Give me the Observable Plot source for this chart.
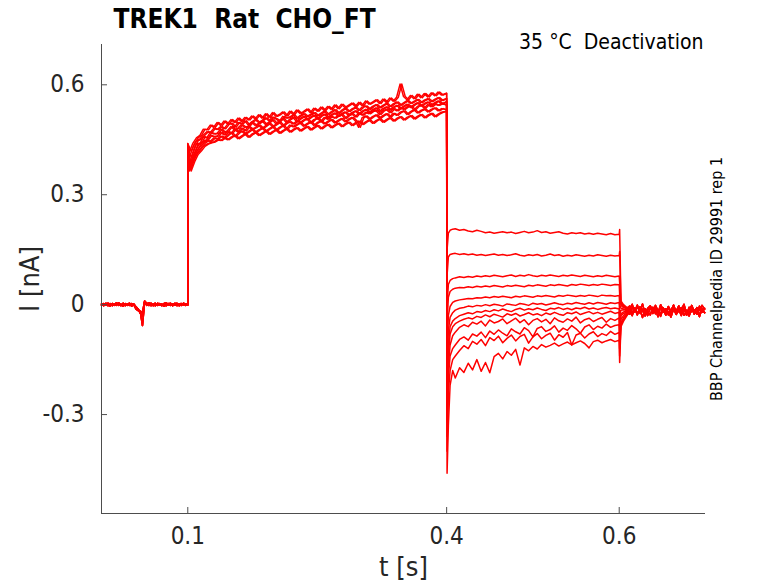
<!DOCTYPE html>
<html>
<head>
<meta charset="utf-8">
<script src="https://cdn.jsdelivr.net/npm/d3@7"></script>
<script src="https://cdn.jsdelivr.net/npm/@observablehq/plot@0.6"></script>
<style>
  html, body { margin: 0; padding: 0; background: #fff; }
</style>
</head>
<body>
<div id="chart"></div>
<script>
// ---------- texts ----------
const titleText = "TREK1  Rat  CHO_FT";
const conditionText = "35 °C  Deactivation";
const sideText = "BBP Channelpedia ID 29991 rep 1";
const xLabel = "t [s]";
const yLabel = "I [nA]";

// ---------- axes ----------
const xDomain = [0, 0.7];
const yDomain = [-0.57, 0.71];
const xTicks = [0.1, 0.4, 0.6];
const xTickLabels = ["0.1", "0.4", "0.6"];
const yTicks = [-0.3, 0, 0.3, 0.6];
const yTickLabels = ["-0.3", "0", "0.3", "0.6"];

// ---------- sample times (s) ----------
const baseT = d3.range(41).map(i => i * 0.0025);          // 0 .. 0.1
const actT = d3.range(76).map(i => 0.1 + i * 0.004);      // 0.1 .. 0.4
const actTb = actT.map((t, i) => (i === 0 || i === 75) ? t : t - 0.002); // interleaved samples
const stepT = [0.4005, 0.402, 0.404, 0.407];              // onset of test step
const holdT = d3.range(39).map(i => 0.41 + i * 0.005);    // 0.41 .. 0.6
const offT = [0.6005, 0.602, 0.605, 0.609];               // end of test step
const tailT = d3.range(30).map(i => 0.612 + i * 0.003);   // 0.612 .. 0.699

// ---------- baseline before activation (nA) ----------
const baseA = [0.002,-0.003,0.004,0.000,-0.004,0.003,0.001,-0.002,0.005,-0.001,0.002,-0.003,0.001,0.004,-0.002,0.000,-0.012,-0.016,-0.020,-0.057,0.008,0.004,-0.002,0.003,0.000,-0.003,0.004,-0.001,0.002,-0.004,0.001,0.003,-0.002,0.002,-0.001,0.004,-0.003,0.000,0.003,-0.002,0.001];
const baseB = [-0.002,0.003,-0.001,0.004,0.001,-0.003,0.002,0.005,-0.002,0.001,-0.004,0.003,0.000,-0.002,0.003,-0.001,-0.008,-0.014,-0.018,-0.022,0.010,0.002,0.005,-0.003,0.002,0.004,-0.002,0.001,-0.003,0.003,0.005,-0.001,0.002,-0.003,0.004,0.000,0.002,-0.002,0.004,0.001,-0.001];
const baseC = [0.001,-0.001,0.002,-0.003,0.003,0.000,-0.002,0.001,0.003,-0.003,0.004,0.000,-0.002,0.002,-0.004,0.002,-0.006,-0.012,-0.024,-0.030,0.006,-0.002,0.001,0.004,-0.003,0.002,-0.001,0.003,-0.002,0.000,-0.003,0.002,0.004,-0.002,0.001,-0.003,0.002,0.003,-0.001,0.002,0.000];

// ---------- activation (nA), six overlapping sweeps of the band ----------
const act1 = [0.440,0.418,0.441,0.455,0.462,0.479,0.477,0.490,0.484,0.497,
  0.489,0.501,0.493,0.505,0.497,0.509,0.500,0.511,0.504,0.515,
  0.507,0.518,0.509,0.521,0.511,0.524,0.514,0.519,0.526,0.515,
  0.528,0.519,0.531,0.522,0.527,0.534,0.524,0.536,0.528,0.539,
  0.530,0.541,0.533,0.545,0.535,0.547,0.538,0.544,0.550,0.541,
  0.552,0.543,0.556,0.547,0.553,0.559,0.549,0.561,0.552,0.564,
  0.555,0.566,0.602,0.568,0.559,0.571,0.562,0.574,0.565,0.576,
  0.567,0.578,0.570,0.580,0.572,0.577];
const act2 = [0.428,0.402,0.430,0.447,0.452,0.463,0.472,0.470,0.481,0.478,
  0.486,0.480,0.492,0.495,0.484,0.497,0.493,0.502,0.490,0.499,
  0.505,0.497,0.503,0.510,0.501,0.512,0.507,0.500,0.514,0.509,
  0.512,0.518,0.508,0.516,0.521,0.513,0.519,0.524,0.515,0.522,
  0.528,0.519,0.526,0.532,0.522,0.530,0.536,0.527,0.534,0.538,
  0.530,0.539,0.542,0.533,0.541,0.546,0.537,0.544,0.549,0.540,
  0.548,0.553,0.544,0.551,0.557,0.549,0.555,0.560,0.551,0.558,
  0.562,0.554,0.560,0.565,0.557,0.563];
const act3 = [0.420,0.388,0.412,0.440,0.439,0.458,0.455,0.470,0.466,0.468,
  0.479,0.470,0.475,0.486,0.477,0.482,0.491,0.484,0.487,0.498,
  0.489,0.495,0.501,0.492,0.498,0.505,0.494,0.502,0.508,0.497,
  0.506,0.511,0.500,0.508,0.514,0.505,0.512,0.517,0.507,0.515,
  0.520,0.511,0.518,0.523,0.514,0.521,0.526,0.517,0.524,0.529,
  0.520,0.528,0.533,0.524,0.532,0.537,0.527,0.535,0.540,0.531,
  0.539,0.544,0.535,0.542,0.547,0.538,0.546,0.551,0.542,0.549,
  0.553,0.545,0.551,0.556,0.548,0.554];
const act4 = [0.410,0.380,0.405,0.425,0.441,0.446,0.450,0.462,0.458,0.460,
  0.470,0.463,0.472,0.468,0.478,0.471,0.482,0.474,0.486,0.479,
  0.483,0.490,0.481,0.488,0.495,0.486,0.492,0.498,0.488,0.496,
  0.499,0.493,0.501,0.497,0.504,0.507,0.496,0.505,0.509,0.500,
  0.511,0.506,0.513,0.509,0.516,0.519,0.508,0.517,0.521,0.512,
  0.523,0.517,0.525,0.521,0.528,0.530,0.519,0.529,0.533,0.524,
  0.535,0.529,0.537,0.533,0.540,0.542,0.531,0.541,0.545,0.536,
  0.546,0.540,0.548,0.544,0.549,0.545];
const act5 = [0.402,0.372,0.398,0.418,0.430,0.440,0.447,0.446,0.455,0.452,
  0.460,0.455,0.463,0.470,0.459,0.468,0.474,0.466,0.472,0.479,
  0.470,0.477,0.482,0.473,0.480,0.486,0.476,0.484,0.489,0.479,
  0.490,0.485,0.492,0.496,0.487,0.494,0.499,0.489,0.497,0.501,
  0.493,0.500,0.505,0.496,0.503,0.508,0.499,0.506,0.511,0.502,
  0.484,0.510,0.515,0.506,0.513,0.518,0.509,0.516,0.521,0.512,
  0.522,0.517,0.525,0.529,0.519,0.527,0.532,0.523,0.530,0.534,
  0.526,0.533,0.537,0.529,0.535,0.532];
const act6 = [0.395,0.365,0.390,0.410,0.420,0.432,0.438,0.442,0.444,0.450,
  0.448,0.455,0.450,0.457,0.462,0.453,0.460,0.466,0.457,0.465,
  0.470,0.462,0.468,0.474,0.465,0.472,0.477,0.468,0.475,0.480,
  0.471,0.478,0.483,0.474,0.481,0.486,0.477,0.484,0.489,0.480,
  0.487,0.492,0.483,0.490,0.495,0.486,0.493,0.498,0.489,0.496,
  0.501,0.492,0.499,0.504,0.495,0.502,0.507,0.498,0.505,0.510,
  0.501,0.508,0.513,0.504,0.511,0.516,0.507,0.514,0.519,0.510,
  0.517,0.522,0.513,0.520,0.525,0.528];

// ---------- test-step onset (at stepT), one row per sweep ----------
const onset = [
  [0.15, 0.195, 0.203, 0.206],
  [0.08, 0.130, 0.137, 0.139],
  [0.00, 0.055, 0.066, 0.071],
  [-0.05, 0.020, 0.036, 0.042],
  [-0.12, -0.030, -0.005, 0.006],
  [-0.18, -0.070, -0.035, -0.022],
  [-0.24, -0.110, -0.060, -0.045],
  [-0.28, -0.140, -0.080, -0.060],
  [-0.32, -0.170, -0.110, -0.085],
  [-0.36, -0.200, -0.140, -0.120],
  [-0.40, -0.240, -0.180, -0.150],
  [-0.46, -0.330, -0.220, -0.180]
];

// ---------- test-step hold currents (at holdT), one row per sweep ----------
const hold = [
  [0.207,0.203,0.205,0.201,0.199,0.203,0.200,0.196,0.198,0.195,0.197,0.199,0.196,0.198,0.194,0.197,0.200,0.196,0.198,0.202,0.197,0.199,0.195,0.197,0.199,0.195,0.193,0.196,0.194,0.196,0.193,0.195,0.192,0.195,0.193,0.191,0.194,0.191,0.192],
  [0.140,0.137,0.139,0.136,0.138,0.135,0.137,0.134,0.136,0.138,0.135,0.137,0.134,0.136,0.139,0.135,0.133,0.136,0.134,0.137,0.133,0.135,0.138,0.134,0.136,0.132,0.135,0.133,0.136,0.134,0.132,0.135,0.133,0.136,0.134,0.132,0.135,0.133,0.134],
  [0.073,0.076,0.074,0.077,0.075,0.078,0.076,0.079,0.077,0.080,0.078,0.076,0.079,0.081,0.077,0.080,0.078,0.082,0.079,0.077,0.080,0.078,0.081,0.079,0.077,0.080,0.078,0.081,0.079,0.077,0.080,0.078,0.076,0.079,0.077,0.080,0.078,0.076,0.078],
  [0.045,0.047,0.046,0.049,0.047,0.050,0.048,0.051,0.049,0.052,0.050,0.048,0.052,0.050,0.053,0.051,0.049,0.053,0.051,0.054,0.052,0.050,0.054,0.052,0.055,0.053,0.051,0.055,0.053,0.056,0.054,0.052,0.055,0.053,0.056,0.054,0.052,0.055,0.054],
  [0.010,0.013,0.015,0.017,0.016,0.019,0.018,0.021,0.019,0.022,0.020,0.023,0.021,0.019,0.023,0.021,0.024,0.022,0.020,0.024,0.022,0.025,0.023,0.021,0.025,0.023,0.026,0.024,0.022,0.025,0.023,0.026,0.024,0.022,0.026,0.024,0.025,0.023,0.025],
  [-0.015,-0.010,-0.008,-0.004,-0.006,-0.002,-0.004,0.000,-0.003,0.001,-0.001,-0.004,0.002,0.000,-0.002,0.003,0.001,-0.002,0.004,0.001,0.003,-0.001,0.002,0.005,0.002,0.000,0.004,0.002,0.006,0.003,0.001,0.005,0.002,0.006,0.004,0.001,0.005,0.003,0.006],
  [-0.038,-0.030,-0.026,-0.022,-0.025,-0.019,-0.021,-0.016,-0.019,-0.014,-0.017,-0.012,-0.016,-0.019,-0.013,-0.010,-0.015,-0.011,-0.014,-0.009,-0.013,-0.016,-0.010,-0.012,-0.008,-0.013,-0.010,-0.014,-0.009,-0.011,-0.007,-0.012,-0.009,-0.013,-0.010,-0.008,-0.011,-0.009,-0.012],
  [-0.052,-0.045,-0.040,-0.036,-0.039,-0.032,-0.035,-0.028,-0.033,-0.026,-0.030,-0.034,-0.025,-0.029,-0.024,-0.031,-0.027,-0.022,-0.028,-0.025,-0.030,-0.023,-0.027,-0.021,-0.026,-0.029,-0.022,-0.025,-0.020,-0.027,-0.023,-0.019,-0.025,-0.021,-0.026,-0.022,-0.018,-0.024,-0.021],
  [-0.075,-0.062,-0.055,-0.060,-0.048,-0.053,-0.045,-0.058,-0.042,-0.050,-0.046,-0.039,-0.052,-0.044,-0.037,-0.049,-0.041,-0.055,-0.043,-0.038,-0.047,-0.040,-0.052,-0.036,-0.044,-0.048,-0.039,-0.045,-0.034,-0.050,-0.041,-0.037,-0.046,-0.040,-0.035,-0.048,-0.038,-0.043,-0.036],
  [-0.110,-0.095,-0.088,-0.097,-0.080,-0.086,-0.075,-0.090,-0.072,-0.081,-0.069,-0.078,-0.085,-0.066,-0.074,-0.080,-0.063,-0.071,-0.088,-0.065,-0.060,-0.073,-0.068,-0.058,-0.075,-0.064,-0.070,-0.057,-0.066,-0.078,-0.061,-0.055,-0.068,-0.059,-0.064,-0.053,-0.062,-0.057,-0.055],
  [-0.140,-0.125,-0.112,-0.120,-0.100,-0.108,-0.095,-0.112,-0.090,-0.098,-0.086,-0.104,-0.092,-0.083,-0.099,-0.087,-0.081,-0.105,-0.088,-0.079,-0.093,-0.084,-0.078,-0.097,-0.082,-0.089,-0.076,-0.110,-0.083,-0.078,-0.091,-0.080,-0.074,-0.087,-0.079,-0.084,-0.073,-0.081,-0.076],
  [-0.200,-0.172,-0.185,-0.160,-0.178,-0.150,-0.182,-0.158,-0.186,-0.142,-0.133,-0.148,-0.128,-0.138,-0.122,-0.165,-0.118,-0.126,-0.114,-0.121,-0.109,-0.116,-0.111,-0.105,-0.113,-0.107,-0.102,-0.110,-0.104,-0.099,-0.106,-0.118,-0.101,-0.097,-0.104,-0.099,-0.095,-0.101,-0.097]
];

// ---------- end of test step (at offT), one row per sweep ----------
const offset = [
  [0.205, 0.010, 0.000, -0.008],
  [0.145, 0.005, -0.003, -0.010],
  [0.060, 0.002, -0.005, -0.012],
  [0.030, -0.002, -0.008, -0.011],
  [0.000, -0.010, -0.012, -0.015],
  [-0.030, -0.015, -0.014, -0.016],
  [-0.060, -0.025, -0.020, -0.018],
  [-0.080, -0.030, -0.024, -0.020],
  [-0.100, -0.040, -0.030, -0.022],
  [-0.120, -0.050, -0.035, -0.025],
  [-0.140, -0.055, -0.040, -0.028],
  [-0.158, -0.060, -0.045, -0.030]
];

// ---------- tail currents after the step (at tailT) ----------
const tailA = [-0.004,-0.022,-0.010,-0.028,-0.006,-0.019,-0.013,-0.030,-0.008,-0.021,-0.002,-0.017,-0.025,-0.009,-0.020,-0.005,-0.027,-0.012,-0.018,-0.003,-0.024,-0.011,-0.029,-0.007,-0.019,-0.014,-0.026,-0.004,-0.021,-0.010];
const tailB = [-0.026,-0.008,-0.018,-0.001,-0.023,-0.012,-0.031,-0.015,-0.005,-0.024,-0.014,-0.033,-0.006,-0.020,-0.011,-0.028,-0.016,-0.003,-0.022,-0.013,-0.030,-0.008,-0.017,-0.025,-0.002,-0.019,-0.009,-0.027,-0.015,-0.022];
const tailC = [-0.012,0.001,-0.020,-0.007,-0.016,0.002,-0.025,-0.010,-0.003,-0.018,-0.008,-0.022,0.000,-0.014,-0.029,-0.006,-0.017,-0.001,-0.021,-0.009,-0.015,0.001,-0.023,-0.012,-0.004,-0.026,-0.008,-0.016,-0.002,-0.013];
const tailD = [-0.018,-0.030,-0.009,-0.024,-0.014,-0.035,-0.011,-0.021,-0.028,-0.007,-0.025,-0.016,-0.032,-0.010,-0.023,-0.019,-0.034,-0.012,-0.027,-0.017,-0.008,-0.029,-0.020,-0.031,-0.013,-0.024,-0.018,-0.033,-0.011,-0.022];

// ---------- assemble the 12 sweeps ----------
const bases = [baseA, baseB, baseC];
const acts = [act1, act2, act3, act4, act5, act6];
const tails = [tailA, tailB, tailC, tailD];
const rows = [];
for (let s = 0; s < hold.length; s++) {
  const push = (ts, vs) => ts.forEach((t, i) => { if (vs[i] !== undefined) rows.push({sweep: s, t, v: vs[i]}); });
  push(baseT, bases[s % 3]);
  push(s < 6 ? actT : actTb, acts[s % 6]);
  push(stepT, onset[s]);
  push(holdT, hold[s]);
  push(offT, offset[s]);
  push(tailT, tails[s % 4]);
}

const font = "'DejaVu Sans Condensed', 'DejaVu Sans', sans-serif";
const axisColor = "#4d4d4d";
const textColor = "#262626";

const chart = Plot.plot({
  width: 778,
  height: 583,
  marginTop: 44,
  marginRight: 73,
  marginBottom: 70,
  marginLeft: 101,
  x: {domain: xDomain},
  y: {domain: yDomain},
  style: {fontFamily: font, background: "#fff", overflow: "visible"},
  marks: [
    Plot.line(rows, {x: "t", y: "v", z: "sweep", stroke: "#ff0000", strokeWidth: 1.5, strokeLinejoin: "round"}),
    Plot.ruleX([xDomain[0]], {stroke: axisColor, strokeWidth: 1}),
    Plot.ruleY([yDomain[0]], {stroke: axisColor, strokeWidth: 1}),
    Plot.tickX(xTicks, {x: d => d, insetTop: 463, stroke: axisColor}),
    Plot.tickY(yTicks, {y: d => d, insetRight: 598, stroke: axisColor}),
    Plot.axisX(xTicks, {tickSize: 0, tickPadding: 13, fontSize: 24, fill: textColor,
      tickFormat: d => xTickLabels[xTicks.indexOf(d)], label: null}),
    Plot.axisY(yTicks, {tickSize: 0, tickPadding: 17, fontSize: 24, fill: textColor,
      tickFormat: d => yTickLabels[yTicks.indexOf(d)], label: null}),
    Plot.text([xLabel], {frameAnchor: "bottom", dy: 62, fontSize: 27, fill: textColor, fontFamily: font}),
    Plot.text([yLabel], {frameAnchor: "left", dx: -71, rotate: -90, textAnchor: "middle", fontSize: 27, fill: textColor, fontFamily: font}),
    Plot.text([titleText], {frameAnchor: "top-left", dx: 12, dy: -35, textAnchor: "start", fontSize: 26, fontWeight: "bold", fill: "#000", fontFamily: font}),
    Plot.text([conditionText], {frameAnchor: "top-right", dx: -2, dy: -10, textAnchor: "end", fontSize: 21, fill: "#000", fontFamily: font}),
    Plot.text([sideText], {frameAnchor: "right", dx: 11, rotate: -90, textAnchor: "middle", fontSize: 16, fill: "#000", fontFamily: font})
  ]
});
document.getElementById("chart").appendChild(chart);
</script>
</body>
</html>
